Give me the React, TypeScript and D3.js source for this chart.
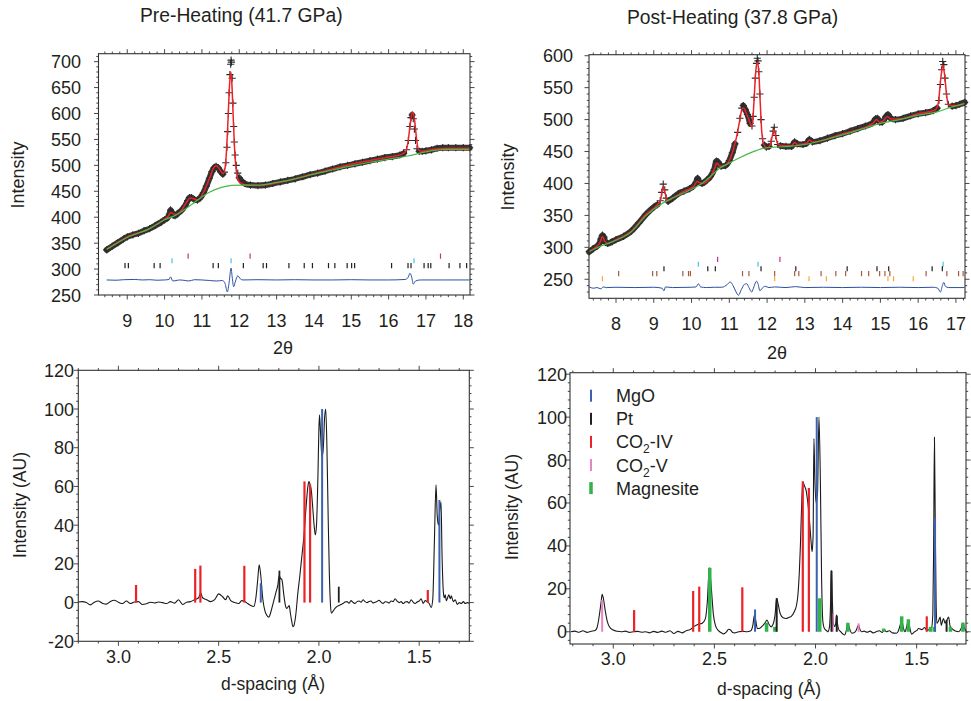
import React from 'react';
import * as d3 from 'd3';

type P = [number, number];

// ---------- Top-left (Pre-Heating, 2θ) ----------
const obsL: P[] = [
  [8.45, 337], [8.6, 344], [8.75, 351], [8.9, 358], [9.0, 362], [9.15, 366], [9.3, 369], [9.45, 374],
  [9.6, 378], [9.75, 384], [9.9, 390], [10.0, 395], [10.08, 399], [10.13, 406], [10.16, 414], [10.19, 410],
  [10.23, 404], [10.28, 403], [10.35, 407], [10.45, 413], [10.55, 422], [10.62, 432], [10.67, 438], [10.72, 438],
  [10.8, 434], [10.88, 433], [10.96, 438], [11.04, 447], [11.12, 460], [11.2, 475], [11.27, 488], [11.33, 496],
  [11.38, 498], [11.44, 495], [11.5, 488], [11.56, 483], [11.6, 487], [11.64, 505], [11.67, 535], [11.69, 565],
  [11.71, 600], [11.73, 640], [11.75, 675], [11.77, 695], [11.78, 703], [11.79, 699], [11.81, 668], [11.83, 620],
  [11.85, 575], [11.87, 545], [11.89, 520], [11.92, 500], [11.96, 485], [12.0, 476], [12.06, 470], [12.15, 465],
  [12.3, 462], [12.5, 461], [12.7, 462], [12.9, 465], [13.1, 468], [13.3, 471], [13.5, 474], [13.7, 478],
  [13.9, 482], [14.1, 485], [14.3, 489], [14.5, 493], [14.7, 497], [14.9, 500], [15.1, 503], [15.3, 506],
  [15.5, 509], [15.7, 512], [15.9, 515], [16.1, 517], [16.3, 520], [16.4, 523], [16.48, 530], [16.53, 548],
  [16.57, 575], [16.6, 592], [16.63, 597], [16.66, 590], [16.69, 570], [16.72, 548], [16.76, 532], [16.82, 527],
  [16.9, 527], [17.0, 528], [17.15, 530], [17.3, 533], [17.45, 534], [17.6, 534], [17.8, 534], [18.0, 534], [18.17, 534],
];
const calcL: P[] = [
  [8.45, 338], [9.0, 362], [9.6, 378], [10.0, 396], [10.1, 402], [10.16, 409], [10.22, 407], [10.3, 405],
  [10.45, 413], [10.6, 430], [10.68, 437], [10.76, 436], [10.88, 433], [11.0, 442], [11.1, 457], [11.2, 474],
  [11.3, 493], [11.38, 499], [11.45, 495], [11.52, 487], [11.57, 484], [11.62, 495], [11.66, 530], [11.7, 590],
  [11.74, 655], [11.775, 680], [11.8, 660], [11.84, 590], [11.88, 525], [11.92, 490], [11.97, 472], [12.05, 465],
  [12.2, 462], [12.5, 461], [13.0, 466], [14.0, 484], [15.0, 502], [16.0, 516], [16.3, 520], [16.45, 526],
  [16.52, 545], [16.58, 580], [16.64, 603], [16.7, 585], [16.75, 550], [16.8, 530], [16.88, 527], [17.2, 531],
  [17.6, 533], [18.17, 533],
];
const bgL: P[] = [
  [8.45, 338], [9.0, 361], [9.6, 378], [10.0, 395], [10.3, 404], [10.6, 418], [10.9, 434], [11.2, 448],
  [11.5, 457], [11.8, 461.5], [12.1, 462], [12.5, 462], [13.0, 467], [13.5, 474], [14.0, 483], [14.5, 491],
  [15.0, 499], [15.5, 506], [16.0, 512], [16.5, 518], [17.0, 526], [17.5, 531], [18.17, 531],
];
const resL: P[] = [
  [8.45, 279], [8.7, 278.5], [8.9, 279.5], [9.2, 280], [9.4, 279], [9.6, 279.5], [9.8, 278.5], [10.0, 279],
  [10.12, 280], [10.16, 285], [10.22, 277], [10.28, 277.5], [10.4, 279], [10.55, 278], [10.65, 277], [10.8, 279.5],
  [11.0, 279], [11.2, 278], [11.4, 277], [11.55, 278], [11.62, 272], [11.68, 256], [11.73, 275], [11.78, 302],
  [11.81, 285], [11.85, 266], [11.9, 277], [11.96, 287], [12.03, 281], [12.1, 279], [12.5, 279.5], [13.0, 279],
  [13.5, 279.5], [14.0, 279], [14.5, 279], [15.0, 279.5], [15.5, 279], [16.0, 279], [16.45, 280], [16.53, 285],
  [16.57, 292], [16.62, 284], [16.66, 271], [16.72, 277], [16.85, 279], [17.5, 279], [18.17, 279],
];
const tickMagL = [10.63, 12.29, 17.39];
const tickCyanL = [10.2, 11.78, 16.68];
const tickBlackL = [8.94, 9.03, 9.72, 9.88, 11.3, 11.44, 12.11, 12.64, 12.73, 13.33, 13.74, 13.96, 14.39, 14.56,
  14.89, 15.01, 15.09, 16.08, 16.52, 16.6, 16.95, 17.06, 17.13, 17.62, 17.91, 18.09];

// ---------- Top-right (Post-Heating, 2θ) ----------
const obsR: P[] = [
  [7.29, 293], [7.4, 298], [7.5, 302], [7.56, 306], [7.6, 313], [7.64, 319], [7.68, 316], [7.72, 308],
  [7.78, 306], [7.9, 309], [8.0, 312], [8.2, 317], [8.4, 325], [8.6, 338], [8.8, 352], [9.0, 363],
  [9.1, 367], [9.17, 373], [9.21, 386], [9.25, 399], [9.29, 390], [9.33, 377], [9.38, 372], [9.5, 377],
  [9.65, 384], [9.8, 388], [9.95, 392], [10.05, 396], [10.12, 402], [10.16, 408], [10.2, 403], [10.28, 400],
  [10.4, 405], [10.5, 411], [10.6, 422], [10.66, 435], [10.7, 434], [10.78, 427], [10.9, 428], [11.0, 436],
  [11.08, 448], [11.15, 462], [11.22, 480], [11.28, 502], [11.33, 518], [11.37, 522], [11.42, 516], [11.48, 508],
  [11.55, 494], [11.6, 490], [11.63, 505], [11.66, 535], [11.69, 565], [11.72, 588], [11.74, 596], [11.76, 592],
  [11.78, 575], [11.81, 540], [11.84, 500], [11.88, 470], [11.93, 460], [11.98, 457], [12.05, 458], [12.11, 466],
  [12.16, 482], [12.19, 488], [12.23, 475], [12.28, 461], [12.35, 459], [12.5, 458], [12.65, 458], [12.73, 465],
  [12.8, 462], [12.95, 461], [13.05, 463], [13.12, 469], [13.2, 465], [13.4, 467], [13.6, 471], [13.8, 475],
  [14.0, 478], [14.2, 482], [14.4, 486], [14.6, 490], [14.8, 495], [14.87, 501], [14.92, 502], [14.98, 496],
  [15.05, 496], [15.15, 505], [15.2, 508], [15.27, 502], [15.4, 500], [15.6, 502], [15.8, 506], [16.0, 509],
  [16.2, 511], [16.4, 514], [16.5, 518], [16.55, 530], [16.59, 555], [16.62, 578], [16.65, 591], [16.68, 586],
  [16.71, 565], [16.75, 540], [16.8, 524], [16.9, 521], [17.0, 522], [17.1, 524], [17.23, 527],
];
const calcR: P[] = [
  [7.29, 294], [7.5, 302], [7.58, 308], [7.64, 317], [7.7, 310], [7.78, 306], [8.0, 312], [8.4, 325],
  [8.8, 352], [9.1, 367], [9.18, 374], [9.24, 395], [9.3, 385], [9.36, 373], [9.5, 377], [9.8, 388],
  [10.05, 395], [10.15, 403], [10.22, 401], [10.3, 400], [10.5, 410], [10.62, 425], [10.67, 432], [10.75, 427],
  [10.88, 428], [11.0, 436], [11.1, 452], [11.2, 475], [11.28, 500], [11.34, 517], [11.38, 518], [11.45, 510],
  [11.52, 500], [11.58, 490], [11.61, 492], [11.65, 525], [11.7, 575], [11.74, 590], [11.78, 575], [11.82, 525],
  [11.86, 480], [11.92, 460], [12.0, 456], [12.08, 460], [12.14, 475], [12.18, 484], [12.22, 476], [12.28, 462],
  [12.4, 459], [12.65, 459], [12.73, 464], [12.8, 461], [13.05, 463], [13.12, 468], [13.2, 465], [14.0, 478],
  [14.8, 494], [14.9, 500], [14.98, 496], [15.08, 498], [15.18, 505], [15.28, 501], [15.5, 501], [16.0, 509],
  [16.45, 515], [16.53, 525], [16.6, 565], [16.65, 585], [16.7, 570], [16.75, 540], [16.8, 523], [17.0, 522],
  [17.23, 526],
];
const bgR: P[] = [
  [7.29, 293], [7.6, 302], [8.0, 311], [8.4, 324], [8.8, 350], [9.2, 368], [9.6, 380], [10.0, 391],
  [10.3, 401], [10.5, 411], [10.7, 422], [11.0, 432], [11.3, 441], [11.6, 449], [11.9, 455], [12.2, 457],
  [12.6, 458], [13.0, 461], [13.5, 468], [14.0, 476], [14.5, 485], [15.0, 494], [15.5, 500], [16.0, 507],
  [16.5, 512], [16.85, 519], [17.23, 525],
];
const resR: P[] = [
  [7.29, 238], [7.4, 236], [7.5, 237], [7.6, 235], [7.66, 238], [7.75, 237], [8.0, 237.5], [8.5, 237],
  [9.0, 237.5], [9.22, 236], [9.27, 232], [9.31, 238], [9.5, 237], [10.0, 237.5], [10.12, 238], [10.18, 243],
  [10.24, 238], [10.4, 237], [10.6, 237.5], [10.8, 237.5], [10.95, 242], [11.02, 245.8], [11.1, 240], [11.18, 230],
  [11.24, 225], [11.32, 234], [11.4, 242], [11.46, 243], [11.52, 237], [11.59, 230], [11.65, 238], [11.72, 247],
  [11.76, 243], [11.81, 232], [11.87, 236], [11.95, 239], [12.05, 237], [12.2, 238], [12.5, 237], [12.75, 238.5],
  [13.0, 237], [13.5, 237.5], [14.0, 237], [14.5, 237.5], [15.0, 237], [15.5, 237.5], [16.0, 237], [16.4, 237.5],
  [16.52, 236], [16.59, 230], [16.64, 240], [16.68, 245], [16.72, 239], [16.8, 237], [17.23, 237],
];
const tickMagR = [10.69, 12.34];
const tickCyanR = [10.18, 11.76, 16.66];
const tickBlackR = [9.27, 10.43, 10.63, 11.84, 12.76, 14.12, 14.91, 15.22, 16.37, 16.64];
const tickBrownR = [8.07, 8.97, 9.08, 9.77, 9.92, 9.97, 11.35, 11.52, 12.2, 12.73, 12.84, 13.43, 13.82, 14.08,
  14.5, 14.69, 14.98, 15.12, 15.25, 16.21, 16.76, 17.07, 17.19];
const tickOrangeR = [7.64, 12.2, 13.11, 13.57, 15.2, 15.35, 15.87];

// ---------- Bottom-left (Pre-Heating, d-spacing) ----------
const lineBL: P[] = [
  [3.2, 0.3], [3.18, 0.5], [3.16, 0], [3.14, -1.2], [3.12, 0.2], [3.1, 0.8], [3.08, -0.3], [3.06, -0.8],
  [3.04, 0.6], [3.02, 1.2], [3.0, 0.2], [2.98, -0.5], [2.96, 0.8], [2.94, -0.5], [2.92, 0.3], [2.9, 0.5],
  [2.88, -1], [2.86, -0.6], [2.84, 0.2], [2.82, -0.2], [2.8, 0.3], [2.78, 0], [2.76, -0.5], [2.74, 0.5],
  [2.72, -0.3], [2.7, 1.5], [2.68, -1], [2.66, 0.2], [2.64, 0.5], [2.62, 1.5], [2.6, 2.5], [2.59, 5],
  [2.58, 2.5], [2.56, 1.5], [2.54, 0.5], [2.52, 1.5], [2.5, 4.5], [2.48, 3], [2.465, 1.5], [2.455, 3.5],
  [2.44, 1], [2.42, 0], [2.4, -0.5], [2.385, 1], [2.37, 0.5], [2.355, -0.5], [2.34, -1.5], [2.325, -2],
  [2.315, 2], [2.305, 12], [2.298, 19.5], [2.29, 14], [2.28, 2], [2.27, -4], [2.26, -6.5], [2.25, -7.5],
  [2.24, -5], [2.23, -1], [2.215, 5], [2.205, 9], [2.198, 14], [2.192, 12.5], [2.185, 12], [2.175, 4],
  [2.168, -1], [2.16, -3], [2.152, -2], [2.148, -1.5], [2.143, -5], [2.135, -10], [2.13, -12.5], [2.125, -12],
  [2.115, -6], [2.105, 5], [2.095, 14], [2.085, 24], [2.075, 34], [2.065, 48], [2.055, 60], [2.05, 62.5],
  [2.044, 61], [2.038, 58], [2.03, 48], [2.024, 40], [2.018, 35], [2.012, 40], [2.005, 65], [2.0, 90],
  [1.997, 97], [1.992, 88], [1.985, 75], [1.978, 80], [1.972, 95], [1.966, 100], [1.96, 80], [1.954, 45],
  [1.948, 15], [1.943, 0], [1.938, -5.5], [1.93, -4.5], [1.92, -3], [1.91, -2], [1.9, -1.5], [1.89, -1],
  [1.88, -0.5], [1.87, 0.3], [1.86, 0.5], [1.85, -0.3], [1.84, 1], [1.83, 0.2], [1.82, -0.5], [1.81, 0.5],
  [1.8, 0.8], [1.79, 0.2], [1.78, 1.5], [1.77, 0.5], [1.76, 0], [1.75, 0.6], [1.74, 0.8], [1.73, -0.2],
  [1.72, 0.2], [1.71, 0.6], [1.7, 1.2], [1.69, 0.2], [1.68, -0.5], [1.67, 0.4], [1.66, 0.3], [1.65, -0.2],
  [1.64, 0.8], [1.63, 0.5], [1.62, 2], [1.61, 0.8], [1.6, 0], [1.59, 0.5], [1.58, -0.5], [1.57, 0.3],
  [1.56, 0.5], [1.55, -0.3], [1.54, 1.5], [1.53, 0.2], [1.52, -0.5], [1.51, 0.3], [1.5, 0.8], [1.49, 2],
  [1.48, -0.5], [1.47, 1], [1.46, 0.5], [1.45, -0.5], [1.44, -2.5], [1.432, 2], [1.424, 32], [1.416, 60.8],
  [1.41, 45], [1.404, 40], [1.397, 48], [1.391, 52], [1.386, 25], [1.379, 5], [1.375, 2.5], [1.37, 4],
  [1.365, 1], [1.36, 2], [1.352, 4], [1.345, 2], [1.34, 3.5], [1.33, 0.5], [1.32, 1.5], [1.31, -1],
  [1.3, 0], [1.29, -0.5], [1.28, 0.5], [1.27, -0.5], [1.26, 0], [1.25, -0.3],
];
const co2ivBL: P[] = [[2.912, 9.1], [2.617, 17.4], [2.591, 19.1], [2.372, 19], [2.072, 62.6], [2.044, 60.9], [1.457, 6.5]];
const ptBL: P[] = [[2.197, 16.5], [1.901, 8.2]];
const mgoBL: P[] = [[2.29, 10], [1.984, 100], [1.399, 53]];

// ---------- Bottom-right (Post-Heating, d-spacing) ----------
const lineBR: P[] = [
  [3.21, 0], [3.19, 0.3], [3.17, -0.2], [3.15, 0.5], [3.13, -0.3], [3.11, 0.2], [3.09, 0.6], [3.08, 2],
  [3.07, 7], [3.06, 14], [3.055, 17.4], [3.05, 16], [3.04, 10], [3.03, 5], [3.02, 2.5], [3.0, 0.8],
  [2.98, 0.2], [2.96, 0], [2.94, 0.3], [2.92, -0.3], [2.9, 0], [2.88, 0.2], [2.86, -0.2], [2.84, 0],
  [2.82, -0.5], [2.8, 0.2], [2.78, -0.3], [2.76, 0.3], [2.74, -0.2], [2.72, 0.5], [2.7, -0.8], [2.68, 0.2],
  [2.66, -0.5], [2.64, 0.5], [2.62, 1], [2.6, 2.5], [2.58, 3.5], [2.56, 4], [2.545, 6], [2.535, 14],
  [2.525, 29.8], [2.515, 20], [2.505, 8], [2.495, 3], [2.48, 0.5], [2.465, -0.5], [2.455, -1], [2.44, 0],
  [2.43, 1.2], [2.42, 0.8], [2.41, -0.3], [2.4, -0.5], [2.38, 0], [2.36, 0.2], [2.34, 0], [2.32, 0.5],
  [2.31, 3], [2.302, 7.8], [2.295, 5], [2.288, 1.5], [2.28, 1.5], [2.265, 2.5], [2.25, 4], [2.24, 5.5],
  [2.23, 3.5], [2.22, 2.3], [2.21, 3.5], [2.2, 8], [2.192, 15.6], [2.185, 13], [2.175, 8.5], [2.16, 6.5],
  [2.146, 6.2], [2.13, 6.8], [2.12, 7.2], [2.105, 9.3], [2.095, 12], [2.088, 16.3], [2.08, 28], [2.075, 39.6],
  [2.069, 58], [2.063, 70], [2.055, 68], [2.047, 66], [2.038, 60], [2.03, 52], [2.022, 42], [2.017, 37.3],
  [2.012, 45], [2.008, 90], [2.003, 70], [1.997, 60], [1.99, 65], [1.983, 100], [1.976, 70], [1.97, 25],
  [1.964, 5], [1.956, 1.5], [1.945, 0.5], [1.939, 0], [1.931, 2.3], [1.926, 12], [1.922, 28.6], [1.917, 15],
  [1.912, 4], [1.905, 2.5], [1.9, 4], [1.896, 7.8], [1.892, 4], [1.885, 1], [1.875, 0], [1.865, -1],
  [1.856, -1.5], [1.848, 0.5], [1.84, 3.9], [1.832, 1.5], [1.82, -0.7], [1.81, -0.5], [1.8, 0.5], [1.787, 3.1],
  [1.78, 1], [1.773, 0], [1.76, 0.3], [1.745, -0.2], [1.73, 0.3], [1.715, -0.5], [1.7, 0], [1.685, 0.5],
  [1.67, -0.3], [1.66, 0.8], [1.65, 0], [1.635, 0.5], [1.62, -0.5], [1.6, -0.7], [1.59, 0.5], [1.582, 3],
  [1.574, 5.4], [1.566, 2], [1.558, 0], [1.55, 2], [1.541, 5.4], [1.533, 1.5], [1.525, -1.1], [1.51, 0],
  [1.5, 0.5], [1.49, 1.5], [1.475, 1], [1.46, 2], [1.45, 0.5], [1.444, 0.8], [1.435, 1.2], [1.427, 1.5],
  [1.42, 8], [1.416, 40], [1.412, 90.6], [1.408, 50], [1.404, 15], [1.4, 3.9], [1.392, 5], [1.384, 6.8],
  [1.378, 3], [1.372, 5], [1.367, 6.2], [1.36, 4], [1.351, 5.4], [1.342, 6.8], [1.334, 2.3], [1.325, 1.5],
  [1.317, 0.8], [1.305, 0.2], [1.292, 0], [1.28, 1.5], [1.271, 4.2], [1.265, 2], [1.259, 0.8], [1.25, -0.5],
];
const co2ivBR: P[] = [[2.897, 10.1], [2.605, 19], [2.575, 21], [2.362, 20.7], [2.063, 70], [2.033, 67], [1.45, 7.2]];
const mgoBR: P[] = [[2.299, 10.4], [1.994, 100], [1.409, 53]];
const ptBR: P[] = [[2.192, 15.6], [1.921, 28.4], [1.895, 7.5], [1.352, 5.5]];
const co2vBR: P[] = [[3.055, 14.8], [1.915, 8.5], [1.787, 3.9]];
const magBR: P[] = [[2.523, 29.8], [2.242, 4.2], [2.201, 2.3], [1.979, 15.6], [1.84, 4.2], [1.663, 1.5],
  [1.574, 7.2], [1.541, 5.8], [1.432, 2.3], [1.413, 2.3], [1.333, 2.3], [1.271, 4.2]];

// ---------- Tick labels / text ----------
const xTicksTL = [9, 10, 11, 12, 13, 14, 15, 16, 17, 18];
const yTicksTL = [250, 300, 350, 400, 450, 500, 550, 600, 650, 700];
const xTicksTR = [8, 9, 10, 11, 12, 13, 14, 15, 16, 17];
const yTicksTR = [250, 300, 350, 400, 450, 500, 550, 600];
const xTicksB = [3.0, 2.5, 2.0, 1.5];
const yTicksBL = [-20, 0, 20, 40, 60, 80, 100, 120];
const yTicksBR = [0, 20, 40, 60, 80, 100, 120];
const legendLabels = ['MgO', 'Pt', 'CO2-IV', 'CO2-V', 'Magnesite'];
const titles = ['Pre-Heating (41.7 GPa)', 'Post-Heating (37.8 GPa)'];

const FONT = '"Liberation Sans", Arial, Helvetica, sans-serif';
const TXT = '#231f20';
const C = {
  red: '#ec2227', green: '#4cb848', resid: '#2d4fa3', mag: '#c0338a', cyan: '#45c4e6',
  black: '#231f20', brown: '#a85a3c', orange: '#f7a738', mgo: '#3b62ae', pink: '#e586c4', magn: '#2fb34a',
};

type Sc = d3.ScaleLinear<number, number>;

function range(domain: number[], step: number) {
  const lo = Math.min(domain[0], domain[1]);
  const hi = Math.max(domain[0], domain[1]);
  const out: number[] = [];
  for (let i = Math.ceil(lo / step - 1e-9); i * step <= hi + 1e-9; i++) out.push(+(i * step).toFixed(6));
  return out;
}

function Frame(props: {
  xs: Sc; ys: Sc; xMajor: number[]; xMinor: number; yMajor: number[]; yMinor: number;
  xFmt: (v: number) => string; xLabelY: number; yLabelX: number;
}) {
  const { xs, ys, xMajor, xMinor, yMajor, yMinor, xFmt, xLabelY, yLabelX } = props;
  const [x0, x1] = [Math.min(...xs.range()), Math.max(...xs.range())];
  const [y0, y1] = [Math.min(...ys.range()), Math.max(...ys.range())];
  const isMaj = (arr: number[], v: number) => arr.some(m => Math.abs(m - v) < 1e-6);
  const xm = range(xs.domain(), xMinor);
  const ym = range(ys.domain(), yMinor);
  const segs: string[] = [];
  xm.forEach(v => {
    const L = isMaj(xMajor, v) ? 4.5 : 2.2;
    const x = xs(v);
    segs.push(`M${x},${y1}V${y1 + L}M${x},${y0}V${y0 - L}`);
  });
  ym.forEach(v => {
    const L = isMaj(yMajor, v) ? 4.5 : 2.2;
    const y = ys(v);
    segs.push(`M${x0},${y}H${x0 - L}M${x1},${y}H${x1 + L}`);
  });
  return (
    <g>
      <rect x={x0} y={y0} width={x1 - x0} height={y1 - y0} fill="none" stroke="#333" strokeWidth={1.1} />
      <path d={segs.join('')} stroke="#333" strokeWidth={0.9} fill="none" />
      {xMajor.map(v => (
        <text key={'x' + v} x={xs(v)} y={xLabelY} textAnchor="middle" fontSize={18} fill={TXT}>{xFmt(v)}</text>
      ))}
      {yMajor.map(v => (
        <text key={'y' + v} x={yLabelX} y={ys(v) + 6.5} textAnchor="end" fontSize={18} fill={TXT}>{String(v)}</text>
      ))}
    </g>
  );
}

function Refinement(props: {
  xs: Sc; ys: Sc; obs: P[]; calc: P[]; bg: P[]; res: P[];
  rows: { vals: number[]; level: number; color: string }[];
}) {
  const { xs, ys, obs, calc, bg, res, rows } = props;
  const line = d3.line<P>().x(d => xs(d[0])).y(d => ys(d[1])).curve(d3.curveMonotoneX);
  // pixel slope of the observed trace; steep flanks show individual crosses only
  const slope = (a: P, b: P) => Math.abs((ys(b[1]) - ys(a[1])) / (xs(b[0]) - xs(a[0])));
  const steep = obs.map((d, i) => {
    const s1 = i > 0 ? slope(obs[i - 1], d) : 0;
    const s2 = i < obs.length - 1 ? slope(d, obs[i + 1]) : 0;
    return Math.max(s1, s2) > 4.5;
  });
  const band = d3.line<P>().x(d => xs(d[0])).y(d => ys(d[1])).curve(d3.curveMonotoneX)
    .defined((_d, i) => !steep[i]);
  const crosses = obs.map(d => {
    const x = xs(d[0]), y = ys(d[1]);
    return `M${x - 3.6},${y}H${x + 3.6}M${x},${y - 3.6}V${y + 3.6}`;
  }).join('');
  return (
    <g>
      <path d={band(obs) || ''} stroke="#353535" strokeWidth={6} fill="none" strokeLinejoin="round" strokeLinecap="round" />
      <path d={crosses} stroke="#2a2a2a" strokeWidth={1.1} fill="none" />
      <path d={line(calc) || ''} stroke={C.red} strokeWidth={1.5} fill="none" />
      <path d={line(bg) || ''} stroke={C.green} strokeWidth={1.2} fill="none" />
      <path d={line(res) || ''} stroke={C.resid} strokeWidth={1} fill="none" />
      {rows.map((r, i) => (
        <path key={i} stroke={r.color} strokeWidth={1.2} fill="none"
          d={r.vals.map(v => `M${xs(v)},${ys(r.level) - 2.6}V${ys(r.level) + 2.6}`).join('')} />
      ))}
    </g>
  );
}

function Bars(props: { xs: Sc; ys: Sc; data: P[]; color: string; width: number }) {
  const { xs, ys, data, color, width } = props;
  return (
    <g>
      {data.map((d, i) => (
        <rect key={i} x={xs(d[0]) - width / 2} y={ys(d[1])} width={width} height={ys(0) - ys(d[1])} fill={color} />
      ))}
    </g>
  );
}

function Legend({ x, y0, dy }: { x: number; y0: number; dy: number }) {
  const colors = [C.mgo, C.black, C.red, C.pink, C.magn];
  const widths = [2, 2, 2, 2, 3.5];
  return (
    <g>
      {legendLabels.map((lab, i) => {
        const y = y0 + i * dy;
        const m = lab.match(/^CO2(.*)$/);
        return (
          <g key={lab}>
            <rect x={x - widths[i] / 2} y={y - 6} width={widths[i]} height={12} fill={colors[i]} />
            <text x={x + 25} y={y + 6.5} fontSize={18} fill={TXT}>
              {m ? (<>CO<tspan dy={5} fontSize={12}>2</tspan><tspan dy={-5}>{m[1]}</tspan></>) : lab}
            </text>
          </g>
        );
      })}
    </g>
  );
}

export default function App() {
  const xsTL = d3.scaleLinear().domain([8.23, 18.18]).range([98.5, 470]);
  const ysTL = d3.scaleLinear().domain([250, 715.3]).range([295, 53.7]);
  const xsTR = d3.scaleLinear().domain([7.285, 17.24]).range([589, 965]);
  const ysTR = d3.scaleLinear().domain([220.2, 601.6]).range([298.3, 54.7]);
  const xsBL = d3.scaleLinear().domain([3.2, 1.25]).range([78.3, 469.3]);
  const ysBL = d3.scaleLinear().domain([-20, 120]).range([641.3, 370.3]);
  const xsBR = d3.scaleLinear().domain([3.214, 1.256]).range([570, 966]);
  const ysBR = d3.scaleLinear().domain([-5.7, 120.7]).range([644, 372.7]);

  const intFmt = (v: number) => String(v);
  const decFmt = d3.format('.1f');
  const lineBot = (xs: Sc, ys: Sc) => d3.line<P>().x(d => xs(d[0])).y(d => ys(d[1])).curve(d3.curveMonotoneX);

  return (
    <svg width={971} height={701} viewBox="0 0 971 701"
      style={{ position: 'absolute', left: 0, top: 0, background: '#fff' }} fontFamily={FONT}>
      <rect width={971} height={701} fill="#fff" />
      {/* Titles */}
      <text x={140} y={22} fontSize={19.3} fill={TXT}>{titles[0]}</text>
      <text x={627} y={24} fontSize={19.3} fill={TXT}>{titles[1]}</text>

      {/* Top-left */}
      <Refinement xs={xsTL} ys={ysTL} obs={obsL} calc={calcL} bg={bgL} res={resL}
        rows={[
          { vals: tickMagL, level: 325, color: C.mag },
          { vals: tickCyanL, level: 316, color: C.cyan },
          { vals: tickBlackL, level: 306.5, color: C.black },
        ]} />
      <Frame xs={xsTL} ys={ysTL} xMajor={xTicksTL} xMinor={0.2} yMajor={yTicksTL} yMinor={10}
        xFmt={intFmt} xLabelY={327} yLabelX={81} />
      <text x={283} y={353.5} textAnchor="middle" fontSize={18} fill={TXT}>2θ</text>
      <text transform="translate(18,175) rotate(-90)" dy="0.36em" textAnchor="middle" fontSize={18} fill={TXT}>Intensity</text>

      {/* Top-right */}
      <Refinement xs={xsTR} ys={ysTR} obs={obsR} calc={calcR} bg={bgR} res={resR}
        rows={[
          { vals: tickMagR, level: 281.3, color: C.mag },
          { vals: tickCyanR, level: 273.5, color: C.cyan },
          { vals: tickBlackR, level: 266.5, color: C.black },
          { vals: tickBrownR, level: 258.9, color: C.brown },
          { vals: tickOrangeR, level: 250.8, color: C.orange },
        ]} />
      <Frame xs={xsTR} ys={ysTR} xMajor={xTicksTR} xMinor={0.2} yMajor={yTicksTR} yMinor={10}
        xFmt={intFmt} xLabelY={330} yLabelX={573} />
      <text x={777} y={358.5} textAnchor="middle" fontSize={18} fill={TXT}>2θ</text>
      <text transform="translate(508,177) rotate(-90)" dy="0.36em" textAnchor="middle" fontSize={18} fill={TXT}>Intensity</text>

      {/* Bottom-left */}
      <path d={lineBot(xsBL, ysBL)(lineBL) || ''} stroke="#1a1a1a" strokeWidth={1.1} fill="none" />
      <Bars xs={xsBL} ys={ysBL} data={co2ivBL} color={C.red} width={2.2} />
      <Bars xs={xsBL} ys={ysBL} data={ptBL} color={C.black} width={1.8} />
      <Bars xs={xsBL} ys={ysBL} data={mgoBL} color={C.mgo} width={2} />
      <Frame xs={xsBL} ys={ysBL} xMajor={xTicksB} xMinor={0.1} yMajor={yTicksBL} yMinor={4}
        xFmt={decFmt} xLabelY={663} yLabelX={74} />
      <text x={273} y={689.5} textAnchor="middle" fontSize={17.5} fill={TXT}>d-spacing (Å)</text>
      <text transform="translate(20,505) rotate(-90)" dy="0.36em" textAnchor="middle" fontSize={17.5} fill={TXT}>Intensity (AU)</text>

      {/* Bottom-right */}
      <path d={lineBot(xsBR, ysBR)(lineBR) || ''} stroke="#1a1a1a" strokeWidth={1.1} fill="none" />
      <Bars xs={xsBR} ys={ysBR} data={co2ivBR} color={C.red} width={2.2} />
      <Bars xs={xsBR} ys={ysBR} data={co2vBR} color={C.pink} width={2} />
      <Bars xs={xsBR} ys={ysBR} data={magBR} color={C.magn} width={3.5} />
      <Bars xs={xsBR} ys={ysBR} data={ptBR} color={C.black} width={2} />
      <Bars xs={xsBR} ys={ysBR} data={mgoBR} color={C.mgo} width={2} />
      <Frame xs={xsBR} ys={ysBR} xMajor={xTicksB} xMinor={0.1} yMajor={yTicksBR} yMinor={4}
        xFmt={decFmt} xLabelY={665} yLabelX={567} />
      <Legend x={591} y0={395.7} dy={23.1} />
      <text x={769} y={694.5} textAnchor="middle" fontSize={17.5} fill={TXT}>d-spacing (Å)</text>
      <text transform="translate(512,507) rotate(-90)" dy="0.36em" textAnchor="middle" fontSize={17.5} fill={TXT}>Intensity (AU)</text>
    </svg>
  );
}
